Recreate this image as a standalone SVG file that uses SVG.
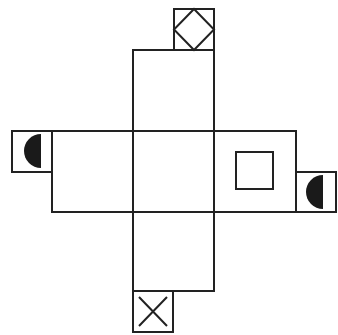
<svg xmlns="http://www.w3.org/2000/svg" width="338" height="335" viewBox="0 0 338 335">
<style>
.l{fill:none;stroke:#222;stroke-width:2}
.f{fill:#1a1a1a;stroke:none}
</style>
<rect width="338" height="335" fill="#fff"/>
<g id="net">
<rect class="l" x="133" y="50" width="81" height="241"/>
<rect class="l" x="52" y="131" width="244" height="81"/>
</g>
<g id="inner-square"><rect class="l" x="236" y="152" width="37" height="37"/></g>
<g id="top-tab">
<rect class="l" x="174" y="9" width="40" height="41"/>
<path class="l" d="M194 9 L214 29.5 L194 50 L174 29.5 Z"/>
</g>
<g id="left-tab">
<rect class="l" x="12" y="131" width="40" height="41"/>
<path class="f" d="M41 134 A17 17 0 0 0 41 168 Z"/>
</g>
<g id="right-tab">
<rect class="l" x="296" y="172" width="40" height="40"/>
<path class="f" d="M323 175 A17 17 0 0 0 323 209 Z"/>
</g>
<g id="bottom-tab">
<rect class="l" x="133" y="291" width="40" height="41"/>
<path class="l" d="M139 297 L167 326 M167 297 L139 326"/>
</g>
</svg>
